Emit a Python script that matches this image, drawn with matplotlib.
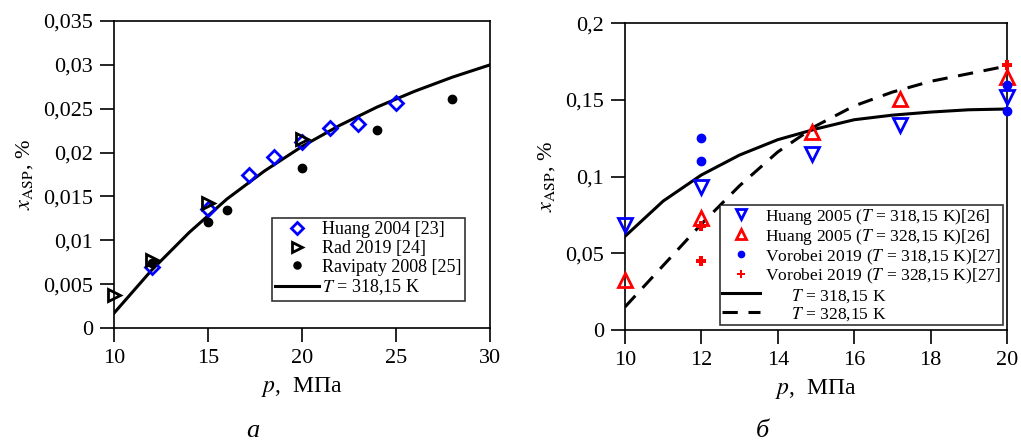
import matplotlib
matplotlib.use("Agg")
import matplotlib.pyplot as plt
from matplotlib.ticker import FuncFormatter

plt.rcParams['font.family'] = ['Liberation Serif', 'DejaVu Serif']
plt.rcParams['mathtext.fontset'] = 'stix'

# --- panel a: T = 318,15 K ---
huang04_p = [12, 15, 17.2, 18.5, 20, 21.5, 23, 25]
huang04_x = [0.0070, 0.0136, 0.0174, 0.0195, 0.0212, 0.0228, 0.0233, 0.0257]
rad19_p = [10, 12, 15, 20]
rad19_x = [0.0038, 0.0077, 0.0142, 0.0215]
ravi08_p = [12, 15, 16, 20, 24, 28]
ravi08_x = [0.0074, 0.0121, 0.0135, 0.0182, 0.0226, 0.0261]
fit_a_p = [10, 12, 14, 16, 18, 20, 22, 24, 26, 28, 30]
fit_a_x = [0.0017, 0.0066, 0.0109, 0.0147, 0.0179, 0.0207, 0.0231, 0.0252, 0.0270, 0.0286, 0.0300]

# --- panel b ---
huang05_318_p = [10, 12, 14.9, 17.2, 20]
huang05_318_x = [0.0684, 0.0934, 0.1147, 0.1336, 0.152]
huang05_328_p = [10, 12, 14.9, 17.2, 20]
huang05_328_x = [0.0326, 0.0728, 0.1292, 0.1503, 0.165]
vor19_318_p = [12, 12, 20, 20]
vor19_318_x = [0.1249, 0.1103, 0.1596, 0.1427]
vor19_328_p = [12, 12, 20]
vor19_328_x = [0.0680, 0.0452, 0.1726]
fit_b_p = [10, 11, 12, 13, 14, 15, 16, 17, 18, 19, 20]
fit_b_318 = [0.061, 0.084, 0.101, 0.114, 0.124, 0.131, 0.137, 0.140, 0.142, 0.1435, 0.144]
fit_b_328 = [0.015, 0.042, 0.069, 0.094, 0.116, 0.133, 0.146, 0.155, 0.162, 0.167, 0.172]


def comma(v, pos):
    s = ('%.3f' % v).rstrip('0').rstrip('.')
    return s.replace('.', ',')


fig = plt.figure(figsize=(10.21, 4.41), dpi=100)
ax1 = fig.add_axes([0.1117, 0.2562, 0.3683, 0.6962])
ax2 = fig.add_axes([0.6121, 0.2517, 0.3741, 0.6960])

ax1.plot(huang04_p, huang04_x, 'D', mfc='none', mec='blue', mew=2, ms=7,
         label='Huang 2004 [23]', zorder=3, clip_on=False)
ax1.plot(rad19_p, rad19_x, '>', mfc='none', mec='black', mew=2, ms=9,
         label='Rad 2019 [24]', zorder=3, clip_on=False)
ax1.plot(ravi08_p, ravi08_x, 'o', color='black', ms=6,
         label='Ravipaty 2008 [25]', zorder=3, clip_on=False)
ax1.plot(fit_a_p, fit_a_x, '-', color='black', lw=2.2,
         label='$T$ = 318,15 K', zorder=2)
ax1.set_xlim(10, 30)
ax1.set_ylim(0, 0.035)
ax1.set_xticks([10, 15, 20, 25, 30])
ax1.set_yticks([0, 0.005, 0.01, 0.015, 0.02, 0.025, 0.03, 0.035])
ax1.yaxis.set_major_formatter(FuncFormatter(comma))
leg1 = ax1.legend(loc='lower right', bbox_to_anchor=(0.934, 0.088), fontsize=13,
                  frameon=True, fancybox=False, edgecolor='black',
                  handlelength=2.4, handletextpad=0.2, borderpad=0.2,
                  labelspacing=0.1, borderaxespad=0, markerscale=0.85)
leg1.get_frame().set_linewidth(1.2)

ax2.plot(huang05_318_p, huang05_318_x, 'v', mfc='none', mec='blue', mew=2, ms=10,
         label='Huang 2005 ($T$ = 318,15 K)[26]', zorder=3, clip_on=False)
ax2.plot(huang05_328_p, huang05_328_x, '^', mfc='none', mec='red', mew=2, ms=10,
         label='Huang 2005 ($T$ = 328,15 K)[26]', zorder=3, clip_on=False)
ax2.plot(vor19_318_p, vor19_318_x, 'o', color='blue', ms=6,
         label='Vorobei 2019 ($T$ = 318,15 K)[27]', zorder=3, clip_on=False)
ax2.plot(vor19_328_p, vor19_328_x, 'P', color='red', ms=7, mew=0,
         label='Vorobei 2019 ($T$ = 328,15 K)[27]', zorder=3, clip_on=False)
ax2.plot(fit_b_p, fit_b_318, '-', color='black', lw=2.2,
         label='      $T$ = 318,15 K', zorder=2)
ax2.plot(fit_b_p, fit_b_328, '--', color='black', lw=2.2, dashes=(5, 3.5),
         label='      $T$ = 328,15 K', zorder=2)
ax2.set_xlim(10, 20)
ax2.set_ylim(0, 0.2)
ax2.set_xticks([10, 12, 14, 16, 18, 20])
ax2.set_yticks([0, 0.05, 0.1, 0.15, 0.2])
ax2.yaxis.set_major_formatter(FuncFormatter(comma))
leg2 = ax2.legend(loc='lower right', bbox_to_anchor=(0.99, 0.016), fontsize=12.6,
                  frameon=True, fancybox=False, edgecolor='black',
                  handlelength=2.2, handletextpad=0.3, borderpad=0.1,
                  labelspacing=0.0, borderaxespad=0, markerscale=0.75,
                  handleheight=1.05)
leg2.get_frame().set_linewidth(1.2)

for ax in (ax1, ax2):
    ax.tick_params(direction='out', length=10, width=1.2, labelsize=16,
                   pad=5, top=False, right=False)
    for s in ax.spines.values():
        s.set_linewidth(1.2)
    ax.set_xlabel('$p$,  МПа', fontsize=17, labelpad=5)
    ax.set_ylabel('$x_{\\mathrm{ASP}}$, %', fontsize=16, labelpad=6)

fig.text(0.248, 0.008, 'а', fontsize=19, style='italic', ha='center')
fig.text(0.747, 0.008, 'б', fontsize=19, style='italic', ha='center')

fig.savefig('out.png', dpi=100)
